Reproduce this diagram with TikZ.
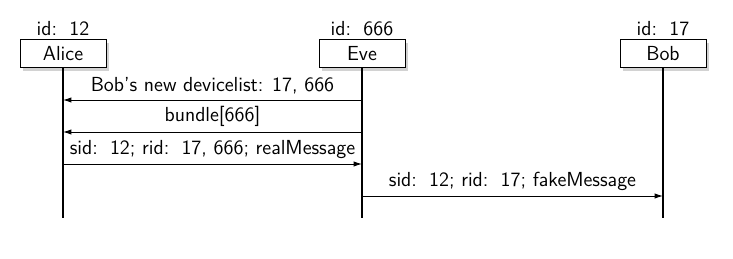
\documentclass[tikz,border=0pt]{standalone}
\usetikzlibrary{shadows,arrows.meta}
\begin{document}
\begin{tikzpicture}[x=0.6pt,y=-0.6pt,font=\sffamily\fontsize{12.2}{14}\selectfont,
  inst/.style={draw,fill=white,line width=0.6pt,minimum width=86*0.6pt,minimum height=28*0.6pt,inner sep=0pt,
    drop shadow={shadow xshift=1.8pt,shadow yshift=-1.8pt,fill=black!35,opacity=0.5}},
  idlab/.style={inner sep=0pt,anchor=base},
  life/.style={line width=0.65pt},
  msg/.style={-{Latex[length=5pt,width=3.2pt]},line width=0.55pt},
  mlab/.style={inner sep=0pt,anchor=base}]
\useasboundingbox (0,0) rectangle (733,259);
% instances
\node[inst] (alice) at (63,54) {Alice};
\node[inst] (eve) at (362,54) {Eve};
\node[inst] (bob) at (663,54) {Bob};
\node[idlab] (ida) at (63,36) {id:\, 12};
\node[idlab] (ide) at (362,36) {id:\, 666};
\node[idlab] (idb) at (663,36) {id:\, 17};
% lifeline ends
\coordinate (aend) at (63,218);
\coordinate (eend) at (362,218);
\coordinate (bend) at (663,218);
\draw[life] (alice.south) -- (aend);
\draw[life] (eve.south) -- (eend);
\draw[life] (bob.south) -- (bend);
% message points
\coordinate (e1) at (362,100); \coordinate (a1) at (63,100);
\coordinate (e2) at (362,132); \coordinate (a2) at (63,132);
\coordinate (a3) at (63,164); \coordinate (e3) at (362,164);
\coordinate (e4) at (362,196); \coordinate (b4) at (663,196);
\draw[msg] (e1) -- node[mlab,above=3pt] (m1) {Bob's new devicelist: 17, 666} (a1);
\draw[msg] (e2) -- node[mlab,above=3pt] (m2) {bundle[666]} (a2);
\draw[msg] (a3) -- node[mlab,above=3pt] (m3) {sid:\, 12; rid:\, 17, 666; realMessage} (e3);
\draw[msg] (e4) -- node[mlab,above=3pt] (m4) {sid:\, 12; rid:\, 17; fakeMessage} (b4);
\end{tikzpicture}
\end{document}
